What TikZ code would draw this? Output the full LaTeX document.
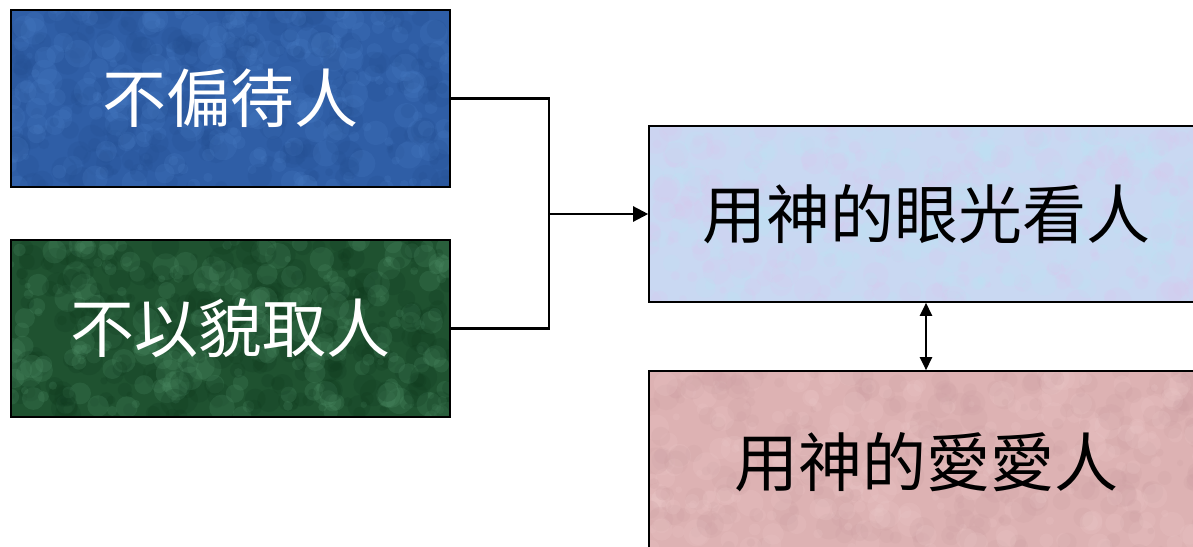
\documentclass[tikz,border=0pt]{standalone}
\usepackage{fontspec}
\newfontfamily\cjk{Noto Sans CJK TC}
\usetikzlibrary{arrows.meta,backgrounds}
\definecolor{boxblue}{HTML}{2F5EA6}
\definecolor{blueA}{HTML}{4A7DC4}
\definecolor{blueB}{HTML}{244F92}
\definecolor{boxgreen}{HTML}{1F5230}
\definecolor{greenA}{HTML}{4F9068}
\definecolor{greenB}{HTML}{0F3A1E}
\definecolor{boxsky}{HTML}{C9D8F2}
\definecolor{skyA}{HTML}{D9C9EE}
\definecolor{skyB}{HTML}{BCE4F4}
\definecolor{boxpink}{HTML}{DDB2B3}
\definecolor{pinkA}{HTML}{EBC8C8}
\definecolor{pinkB}{HTML}{CDA0A3}
\newcommand{\mottlebox}[4]{% node, base, light, dark
  \begin{scope}
    \clip (#1.north west) rectangle (#1.south east);
    \fill[#2] (#1.north west) rectangle (#1.south east);
    \path (#1.north west); \pgfgetlastxy{\mx}{\my}
    \path (#1.south east); \pgfgetlastxy{\nx}{\ny}
    \foreach \k in {1,...,260}{
      \pgfmathsetmacro\px{\mx+rnd*(\nx-\mx)}\pgfmathsetmacro\py{\my+rnd*(\ny-\my)}\pgfmathsetmacro\pr{3+rnd*11}
      \fill[#3, opacity=0.22] (\px pt,\py pt) circle[radius=\pr];
      \pgfmathsetmacro\qx{\mx+rnd*(\nx-\mx)}\pgfmathsetmacro\qy{\my+rnd*(\ny-\my)}\pgfmathsetmacro\qr{3+rnd*11}
      \fill[#4, opacity=0.22] (\qx pt,\qy pt) circle[radius=\qr];
    }
  \end{scope}}
\tikzset{
  card/.style={draw=black, line width=1.6pt, minimum width=439pt, minimum height=177pt,
    inner sep=0pt, font=\cjk\fontsize{64}{72}\selectfont},
  link/.style={draw=black, line width=2.3pt},
  tip/.style={-{Triangle[length=15pt,width=15pt]}},
  twotip/.style={{Triangle[length=13pt,width=12pt]}-{Triangle[length=13pt,width=12pt]}}
}
\begin{document}
\begin{tikzpicture}[x=1pt,y=-1pt]
\pgfmathsetseed{11}
\useasboundingbox (0,0) rectangle (1193,546);
\node[card, text=white] (a) at (230.5,98.5) {\raisebox{-2pt}{不偏待人}};
\node[card, text=white] (b) at (230.5,328.5) {\raisebox{-2pt}{不以貌取人}};
\node[card, text=black, minimum width=554pt, minimum height=176pt] (c) at (926,214) {\raisebox{-3pt}{用神的眼光看人}};
\node[card, text=black, minimum width=554pt, minimum height=182pt] (d) at (926,462) {用神的愛愛人};
\begin{scope}[on background layer]
  \fill[white] (0,0) rectangle (1193,546);
  \mottlebox{a}{boxblue}{blueA}{blueB}
  \mottlebox{b}{boxgreen}{greenA}{greenB}
  \mottlebox{c}{boxsky}{skyA}{skyB}
  \mottlebox{d}{boxpink}{pinkA}{pinkB}
\end{scope}
\coordinate (j) at (549,214);
\draw[link] (a.east) -| (j) |- (b.east);
\draw[link, tip] (j) -- (c.west);
\draw[link, twotip] (c.south) -- (d.north);
\end{tikzpicture}
\end{document}
